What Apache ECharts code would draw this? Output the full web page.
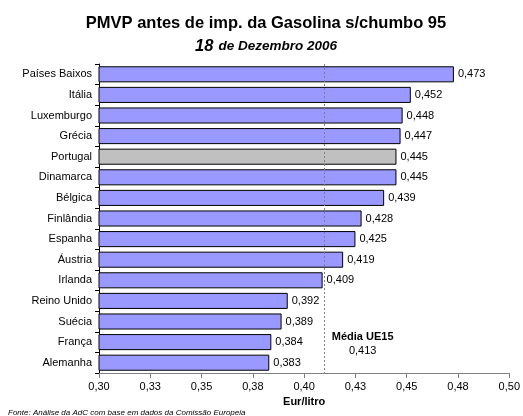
<!DOCTYPE html>
<html>
<head>
<meta charset="utf-8">
<script src="https://cdn.jsdelivr.net/npm/echarts@6/dist/echarts.min.js"></script>
<style>
  html, body { margin: 0; padding: 0; background: #fff; }
  #chart { width: 523px; height: 416px; }
</style>
</head>
<body>
<div id="chart"></div>
<script>
// países, de cima para baixo
var paises = ['Países Baixos', 'Itália', 'Luxemburgo', 'Grécia', 'Portugal', 'Dinamarca', 'Bélgica',
    'Finlândia', 'Espanha', 'Áustria', 'Irlanda', 'Reino Unido', 'Suécia', 'França', 'Alemanha'];
var precos = [0.473, 0.452, 0.448, 0.447, 0.445, 0.445, 0.439, 0.428, 0.425, 0.419, 0.409, 0.392, 0.389, 0.384, 0.383];
var mediaUE15 = 0.413;
var destaque = 'Portugal';

var fonte = 'Liberation Sans, Arial, sans-serif';

function virgula(v, casas) {
    var f = Math.pow(10, casas);
    return (Math.round(v * f + 1e-9) / f).toFixed(casas).replace('.', ',');
}

var chart = echarts.init(document.getElementById('chart'));

var option = {
    backgroundColor: '#fff',
    animation: false,
    title: [{
        text: 'PMVP antes de imp. da Gasolina s/chumbo 95',
        left: 261,
        textAlign: 'center',
        top: 10,
        textStyle: { fontFamily: fonte, fontSize: 16.5, fontWeight: 'bold', color: '#000' }
    }, {
        text: '{a|18} {b|de Dezembro 2006}',
        left: 261,
        textAlign: 'center',
        top: 32,
        textStyle: {
            rich: {
                a: { fontFamily: fonte, fontSize: 16.5, fontWeight: 'bold', fontStyle: 'italic', color: '#000' },
                b: { fontFamily: fonte, fontSize: 13.5, fontWeight: 'bold', fontStyle: 'italic', color: '#000' }
            }
        }
    }, {
        text: 'Fonte: Análise da AdC com base em dados da Comissão Europeia',
        left: 3,
        top: 404,
        textStyle: { fontFamily: fonte, fontSize: 8, fontStyle: 'italic', fontWeight: 'normal', color: '#000' }
    }],
    grid: { left: 99, right: 11, top: 64, bottom: 43 },
    xAxis: {
        type: 'value',
        min: 0.3,
        max: 0.5,
        interval: 0.025,
        name: 'Eur/litro',
        nameLocation: 'middle',
        nameGap: 22,
        nameTextStyle: { fontFamily: fonte, fontSize: 11, fontWeight: 'bold', color: '#000' },
        axisLine: { show: true, lineStyle: { color: '#808080', width: 1 } },
        axisTick: { show: true, length: 5, lineStyle: { color: '#808080' } },
        axisLabel: {
            fontFamily: fonte, fontSize: 11, color: '#000', margin: 8,
            formatter: function (v) { return virgula(v, 2); }
        },
        splitLine: { show: false }
    },
    yAxis: {
        type: 'category',
        data: paises,
        inverse: true,
        axisLine: { show: true, lineStyle: { color: '#000', width: 1 } },
        axisTick: { show: true, length: 4, lineStyle: { color: '#000' } },
        axisLabel: { fontFamily: fonte, fontSize: 11, color: '#000', margin: 7 }
    },
    series: [{
        type: 'bar',
        barCategoryGap: '22%',
        data: precos.map(function (v, i) {
            return {
                value: v,
                itemStyle: { color: paises[i] === destaque ? '#c0c0c0' : '#9999ff' }
            };
        }),
        itemStyle: { borderColor: '#000', borderWidth: 1 },
        label: {
            show: true,
            position: 'right',
            distance: 4,
            fontFamily: fonte,
            fontSize: 11,
            color: '#000',
            formatter: function (p) { return virgula(p.value, 3); }
        },
        markLine: {
            symbol: 'none',
            silent: true,
            lineStyle: { color: '#808080', type: [2, 2], width: 1 },
            label: {
                show: true,
                position: 'end',
                offset: [38, -48],
                formatter: '{a|Média UE15}\n{b|' + virgula(mediaUE15, 3) + '}',
                rich: {
                    a: { fontFamily: fonte, fontSize: 11, fontWeight: 'bold', color: '#000', lineHeight: 14, align: 'center' },
                    b: { fontFamily: fonte, fontSize: 11, color: '#000', lineHeight: 14, align: 'center' }
                }
            },
            data: [{ xAxis: mediaUE15 }]
        }
    }]
};

chart.setOption(option);
</script>
</body>
</html>
